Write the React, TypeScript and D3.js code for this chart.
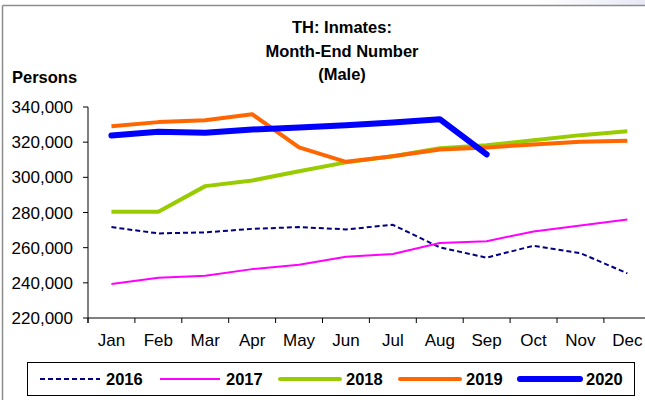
import React from "react";
import * as d3 from "d3";

const months = ["Jan", "Feb", "Mar", "Apr", "May", "Jun", "Jul", "Aug", "Sep", "Oct", "Nov", "Dec"];
const yTicks = [220000, 240000, 260000, 280000, 300000, 320000, 340000];

const s2016 = [271700, 268100, 268700, 270700, 271700, 270400, 273000, 260200, 254300, 261100, 256900, 245400];
const s2017 = [239300, 242900, 244000, 247800, 250300, 254800, 256400, 262600, 263700, 269200, 272600, 276000];
const s2018 = [280400, 280400, 295000, 298200, 303500, 308500, 312000, 316500, 318300, 321100, 324000, 326200];
const s2019 = [329100, 331400, 332500, 335900, 317000, 308800, 312000, 315800, 317000, 318700, 320200, 320800];
const s2020 = [323800, 325900, 325300, 327200, 328400, 329600, 331200, 333100, 313000];

const seriesNames = ["2016", "2017", "2018", "2019", "2020"];
const seriesData = [s2016, s2017, s2018, s2019, s2020];
const colors = ["#000080", "#ff00ff", "#99cc00", "#ff6600", "#0000ff"];
const widths = [2, 2, 4, 4, 6];
const dashes = ["5,3", null, null, null, null];

const FONT = "'Liberation Sans', Arial, sans-serif";

export default function App() {
  const x0 = 88;
  const step = 46.9;
  const x = d3.scaleBand<string>().domain(months).range([x0, x0 + step * 12]).padding(0);
  const y = d3.scaleLinear().domain([220000, 340000]).range([318, 107]);
  const cx = (m: string) => (x(m) as number) + x.bandwidth() / 2;

  const line = d3
    .line<number>()
    .x((_, i) => cx(months[i]))
    .y((v) => y(v));

  const legendX = [40, 160, 280, 400, 520];

  return (
    <svg
      width={645}
      height={400}
      style={{ position: "absolute", left: 0, top: 0, background: "#fff" }}
      fontFamily={FONT}
    >
      <defs>
        <linearGradient id="tr" x1="0" x2="1" y1="0" y2="0">
          <stop offset="0" stopColor="#ffffff" />
          <stop offset="1" stopColor="#e8e8f6" />
        </linearGradient>
      </defs>
      <rect x={540} y={0} width={105} height={6} fill="url(#tr)" />
      {/* frame */}
      <line x1={2.5} y1={5.5} x2={645} y2={5.5} stroke="#8c8c8c" strokeWidth={1.5} />
      <line x1={2.5} y1={5.5} x2={2.5} y2={400} stroke="#8c8c8c" strokeWidth={1.5} />

      {/* title */}
      <g fontWeight="bold" fontSize={16.5} textAnchor="middle" fill="#000">
        <text x={342} y={33}>TH: Inmates:</text>
        <text x={342} y={57}>Month-End Number</text>
        <text x={342} y={80}>(Male)</text>
      </g>
      <text x={12} y={83} fontWeight="bold" fontSize={16.5} fill="#000">Persons</text>

      {/* y axis */}
      <line x1={x0} y1={y(340000)} x2={x0} y2={y(220000) + 5} stroke="#000" strokeWidth={1} />
      {yTicks.map((t) => (
        <g key={t}>
          <line x1={x0 - 5} x2={x0} y1={y(t)} y2={y(t)} stroke="#000" />
          <text x={73} y={y(t) + 6} textAnchor="end" fontSize={17} fill="#000">
            {d3.format(",")(t)}
          </text>
        </g>
      ))}

      {/* x axis */}
      <line x1={x0} y1={y(220000)} x2={645} y2={y(220000)} stroke="#000" strokeWidth={1} />
      {months.map((m) => (
        <g key={m}>
          <line x1={x(m) as number} x2={x(m) as number} y1={y(220000)} y2={y(220000) + 5} stroke="#000" />
          <text x={cx(m)} y={346} textAnchor="middle" fontSize={17} fill="#000">
            {m}
          </text>
        </g>
      ))}

      {/* series */}
      {seriesData.map((d, k) => (
        <path
          key={seriesNames[k]}
          d={line(d) as string}
          fill="none"
          stroke={colors[k]}
          strokeWidth={widths[k]}
          strokeDasharray={dashes[k] ?? undefined}
          strokeLinecap={k === 4 ? "round" : "butt"}
          strokeLinejoin="round"
        />
      ))}

      {/* legend */}
      <rect x={27.5} y={362.5} width={607} height={33} fill="#fff" stroke="#000" strokeWidth={1} />
      {seriesNames.map((n, k) => (
        <g key={n}>
          <line
            x1={legendX[k]}
            x2={legendX[k] + 60}
            y1={379}
            y2={379}
            stroke={colors[k]}
            strokeWidth={widths[k]}
            strokeDasharray={dashes[k] ?? undefined}
            strokeLinecap={k >= 2 ? "round" : "butt"}
          />
          <text x={legendX[k] + 66} y={385} fontWeight="bold" fontSize={16.5} fill="#000">
            {n}
          </text>
        </g>
      ))}
    </svg>
  );
}
